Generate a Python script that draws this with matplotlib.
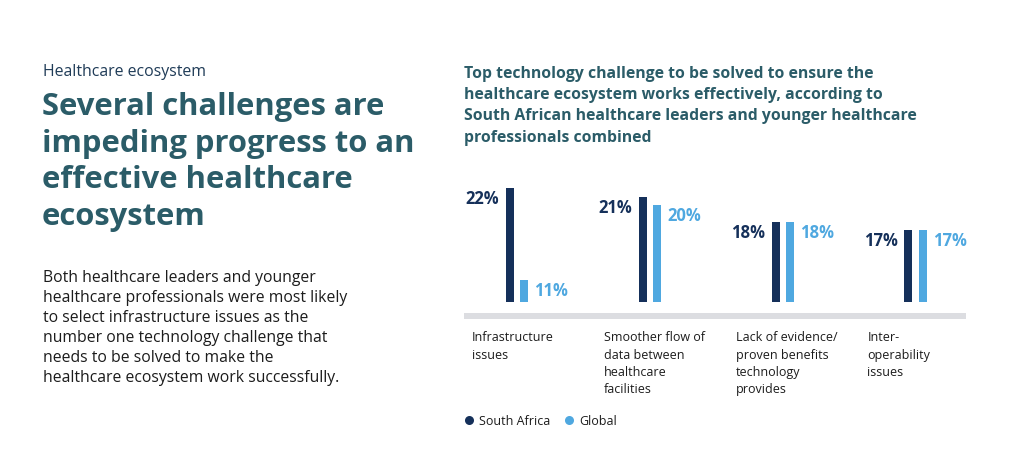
import numpy as np
import matplotlib.pyplot as plt
from matplotlib.patches import Rectangle
from matplotlib.lines import Line2D
from matplotlib.transforms import blended_transform_factory

plt.rcParams['font.family'] = ['Open Sans', 'DejaVu Sans']

# ---- data ----
categories = [
    "Infrastructure\nissues",
    "Smoother flow of\ndata between\nhealthcare\nfacilities",
    "Lack of evidence/\nproven benefits\ntechnology\nprovides",
    "Inter-\noperability\nissues",
]
south_africa = [22, 21, 18, 17]
global_vals = [11, 20, 18, 17]

# ---- colours ----
navy = "#15305a"
light_blue = "#4fa8e0"
teal = "#2b5c68"
body = "#1c1c1c"
rule_grey = "#dcdde1"

W, H = 1024, 477
fig = plt.figure(figsize=(W / 100, H / 100), dpi=100)
fig.patch.set_facecolor("white")


def fx(px):
    return px / W


def fy(py):
    return 1 - py / H


# ---- left text block ----
fig.text(fx(43), fy(76.5), "Healthcare ecosystem", fontsize=11.4,
         color="#1f3b57", va="baseline")

headline = ["Several challenges are", "impeding progress to an",
            "effective healthcare", "ecosystem"]
for i, line in enumerate(headline):
    fig.text(fx(42), fy(115 + 36.7 * i), line, fontsize=22.3,
             fontweight="bold", color=teal, va="baseline")

para = ["Both healthcare leaders and younger",
        "healthcare professionals were most likely",
        "to select infrastructure issues as the",
        "number one technology challenge that",
        "needs to be solved to make the",
        "healthcare ecosystem work successfully."]
for i, line in enumerate(para):
    fig.text(fx(43), fy(281.7 + 20 * i), line, fontsize=11.3,
             color=body, va="baseline")

# ---- chart title ----
title = ["Top technology challenge to be solved to ensure the",
         "healthcare ecosystem works effectively, according to",
         "South African healthcare leaders and younger healthcare",
         "professionals combined"]
for i, line in enumerate(title):
    fig.text(fx(464), fy(77.5 + 21.5 * i), line, fontsize=11.3,
             fontweight="bold", color=teal, va="baseline")

# ---- bar chart ----
spacing = 132.8
left_px, right_px = 464, 966
center0 = 517.2
base_py, top_py = 303.3, 180
y0, px_per_pct = 8.28, 8.31

ax = fig.add_axes([fx(left_px), fy(base_py),
                   (right_px - left_px) / W, (base_py - top_py) / H])
ax.set_xlim((left_px - center0) / spacing, (right_px - center0) / spacing)
ax.set_ylim(y0, y0 + (base_py - top_py) / px_per_pct)
ax.axis("off")

x = np.arange(len(categories))
off = 7.15 / spacing
bw = 8 / spacing
ax.bar(x - off, np.array(south_africa) - y0, bottom=y0, width=bw, color=navy)
ax.bar(x + off, np.array(global_vals) - y0, bottom=y0, width=bw, color=light_blue)

for xi, v in zip(x, south_africa):
    ax.annotate(f"{v}%", (xi - off - bw / 2, v), xytext=(-7, -1),
                textcoords="offset pixels", ha="right", va="top",
                fontsize=12, fontweight="bold", color=navy)
for xi, v in zip(x, global_vals):
    ax.annotate(f"{v}%", (xi + off + bw / 2, v), xytext=(6, -1),
                textcoords="offset pixels", ha="left", va="top",
                fontsize=12, fontweight="bold", color=light_blue)

# grey rule under the bars
fig.add_artist(Rectangle((fx(left_px), fy(320)), (right_px - left_px) / W,
                         5.7 / H, transform=fig.transFigure,
                         facecolor=rule_grey, edgecolor="none"))

# category labels
trans = blended_transform_factory(ax.transData, fig.transFigure)
for xi, lab in zip(x, categories):
    ax.text(xi - off - (38 + xi) / spacing, fy(331.5), lab, transform=trans,
            ha="left", va="top", fontsize=9, color=body, linespacing=1.42,
            clip_on=False)

# legend
handles = [
    Line2D([], [], marker="o", linestyle="none", markersize=6.5,
           markerfacecolor=navy, markeredgecolor="none", label="South Africa"),
    Line2D([], [], marker="o", linestyle="none", markersize=6.5,
           markerfacecolor=light_blue, markeredgecolor="none", label="Global"),
]
fig.legend(handles=handles, loc="center left",
           bbox_to_anchor=(fx(451), fy(422)), ncol=2, frameon=False,
           fontsize=9, handletextpad=0.35, columnspacing=1.0,
           handlelength=1.0, labelcolor=body)

fig.savefig("out.png", dpi=100, facecolor="white")
